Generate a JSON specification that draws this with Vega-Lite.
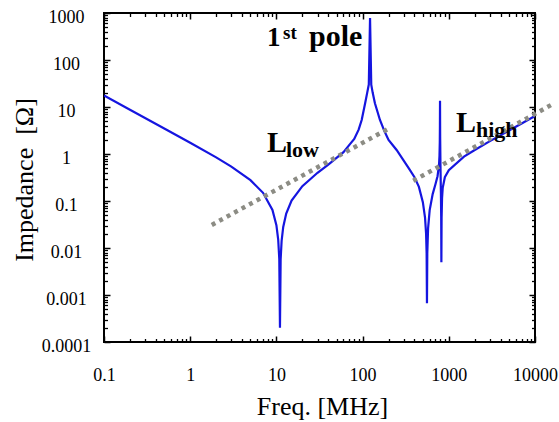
{
  "$schema": "https://vega.github.io/schema/vega-lite/v6.json",
  "autosize": "none",
  "width": 431,
  "height": 329,
  "padding": {"left": 104, "top": 13, "right": 24, "bottom": 80},
  "background": "white",
  "config": {
    "view": {"stroke": "black", "strokeWidth": 2},
    "axis": {"grid": false, "tickColor": "black", "labelColor": "black", "titleColor": "black", "domain": false}
  },
  "datasets": {
    "curve": [
      {"f": 0.1, "z": 17.5}, {"f": 0.2, "z": 8.747}, {"f": 0.5, "z": 3.493}, {"f": 1, "z": 1.736},
      {"f": 2, "z": 0.8463}, {"f": 3, "z": 0.5403}, {"f": 5, "z": 0.2781}, {"f": 7, "z": 0.1493},
      {"f": 9, "z": 0.0646}, {"f": 10, "z": 0.03058}, {"f": 10.5, "z": 0.01492}, {"f": 10.8, "z": 0.005885},
      {"f": 11, "z": 0.0002}, {"f": 11.2, "z": 0.005782}, {"f": 11.5, "z": 0.01428}, {"f": 12, "z": 0.028},
      {"f": 13, "z": 0.054}, {"f": 15, "z": 0.1018}, {"f": 20, "z": 0.207}, {"f": 30, "z": 0.3986},
      {"f": 40, "z": 0.5962}, {"f": 60, "z": 1.094}, {"f": 71, "z": 1.6}, {"f": 80, "z": 2.1},
      {"f": 90, "z": 3.3}, {"f": 97.6, "z": 5.3}, {"f": 107, "z": 12}, {"f": 113, "z": 20},
      {"f": 118, "z": 30}, {"f": 122, "z": 780}, {"f": 126, "z": 30}, {"f": 131, "z": 20},
      {"f": 139, "z": 12}, {"f": 159, "z": 5.3}, {"f": 180, "z": 3.0}, {"f": 200, "z": 2.0},
      {"f": 248, "z": 1.22}, {"f": 300, "z": 0.72}, {"f": 350, "z": 0.47}, {"f": 400, "z": 0.32},
      {"f": 450, "z": 0.2}, {"f": 500, "z": 0.0943},
      {"f": 530, "z": 0.0443}, {"f": 545, "z": 0.0203}, {"f": 553, "z": 0.0078}, {"f": 558, "z": 0.00067},
      {"f": 563, "z": 0.0077}, {"f": 575, "z": 0.0261}, {"f": 600, "z": 0.0639}, {"f": 650, "z": 0.1402},
      {"f": 700, "z": 0.2276}, {"f": 740, "z": 0.3373}, {"f": 770, "z": 0.585}, {"f": 780, "z": 0.93},
      {"f": 786, "z": 1.78}, {"f": 789, "z": 4.1}, {"f": 791, "z": 13.5}, {"f": 794, "z": 2.34},
      {"f": 800, "z": 0.612}, {"f": 810, "z": 0.15}, {"f": 816, "z": 0.0466}, {"f": 820, "z": 0.005},
      {"f": 825, "z": 0.0441}, {"f": 835, "z": 0.115}, {"f": 850, "z": 0.19}, {"f": 900, "z": 0.32},
      {"f": 1000, "z": 0.45}, {"f": 1500, "z": 0.88}, {"f": 2000, "z": 1.22}, {"f": 3000, "z": 1.88},
      {"f": 5000, "z": 3.172}, {"f": 7000, "z": 4.471}, {"f": 10000, "z": 6.41}
    ],
    "asym": [
      {"seg": "low", "f": 1.78, "z": 0.031}, {"seg": "low", "f": 208, "z": 3.6},
      {"seg": "high", "f": 387, "z": 0.27}, {"seg": "high", "f": 15350, "z": 11.0}
    ],
    "notes": [
      {"kind": "num", "text": "1", "f": 7.78, "z": 198.6},
      {"kind": "sup", "text": "st", "f": 11.93, "z": 286.7},
      {"kind": "big", "text": "pole", "f": 23.9, "z": 198.6},
      {"kind": "big", "text": "L", "f": 7.78, "z": 1.119},
      {"kind": "sub", "text": "low", "f": 12.92, "z": 0.877},
      {"kind": "big", "text": "L", "f": 1212, "z": 2.98},
      {"kind": "sub", "text": "high", "f": 2068, "z": 2.333}
    ]
  },
  "resolve": {"axis": {"x": "independent", "y": "independent"}},
  "layer": [
    {
      "data": {"name": "curve"},
      "mark": {"type": "line", "color": "#1515e0", "strokeWidth": 2.2, "clip": true},
      "encoding": {
        "x": {"field": "f", "type": "quantitative",
          "scale": {"type": "log", "domain": [0.1, 10000], "nice": false},
          "axis": {"orient": "bottom", "values": [0.1, 1, 10, 100, 1000, 10000], "ticks": false,
            "labelExpr": "format(datum.value, '')", "labelFont": "Liberation Serif", "labelFontSize": 18,
            "labelPadding": 24, "labelFlush": false, "labelOverlap": false, "labelBound": false,
            "title": "Freq. [MHz]", "titleFont": "Liberation Serif", "titleFontSize": 26, "titleFontWeight": "normal",
            "titleX": 218, "titleY": 72, "titleBaseline": "alphabetic", "titleAlign": "center"}},
        "y": {"field": "z", "type": "quantitative",
          "scale": {"type": "log", "domain": [0.0001, 1000], "nice": false},
          "axis": {"orient": "left", "values": [0.0001, 0.001, 0.01, 0.1, 1, 10, 100, 1000], "ticks": false,
            "labelExpr": "format(datum.value, '')", "labelFont": "Liberation Serif", "labelFontSize": 18,
            "labelPadding": 38, "labelAlign": "center", "labelBaseline": "middle", "labelOffset": 4.5,
            "labelFlush": false, "labelOverlap": false, "labelBound": false,
            "title": "Impedance\u00a0 [Ω]", "titleFont": "Liberation Serif", "titleFontSize": 26, "titleFontWeight": "normal",
            "titleAngle": -90, "titleX": -72, "titleY": 166.5, "titleBaseline": "alphabetic", "titleAlign": "center"}}
      }
    },
    {
      "data": {"name": "asym"},
      "mark": {"type": "line", "color": "#8c8c84", "strokeWidth": 4.5, "strokeDash": [4, 4.5], "strokeCap": "butt", "clip": false},
      "encoding": {
        "detail": {"field": "seg"},
        "x": {"field": "f", "type": "quantitative",
          "scale": {"type": "log", "domain": [0.1, 10000], "nice": false},
          "axis": {"orient": "bottom", "values": [0.1, 1, 10, 100, 1000, 10000], "labels": false, "ticks": true, "tickSize": -6, "tickWidth": 1.5, "title": null}},
        "y": {"field": "z", "type": "quantitative",
          "scale": {"type": "log", "domain": [0.0001, 1000], "nice": false},
          "axis": {"orient": "left", "values": [0.0001, 0.001, 0.01, 0.1, 1, 10, 100, 1000], "labels": false, "ticks": true, "tickSize": -6, "tickWidth": 1.5, "title": null}}
      }
    },
    {
      "data": {"name": "notes"},
      "transform": [{"filter": "datum.kind === 'num'"}],
      "mark": {"type": "text", "align": "left", "baseline": "alphabetic", "font": "Liberation Serif", "fontWeight": "bold", "fontSize": 27, "color": "black"},
      "encoding": {
        "text": {"field": "text"},
        "x": {"field": "f", "type": "quantitative",
          "scale": {"type": "log", "domain": [0.1, 10000], "nice": false},
          "axis": {"orient": "top", "values": [0.1, 1, 10, 100, 1000, 10000], "labels": false, "ticks": true, "tickSize": -6, "tickWidth": 1.5, "title": null}},
        "y": {"field": "z", "type": "quantitative",
          "scale": {"type": "log", "domain": [0.0001, 1000], "nice": false},
          "axis": {"orient": "right", "values": [0.0001, 0.001, 0.01, 0.1, 1, 10, 100, 1000], "labels": false, "ticks": true, "tickSize": -6, "tickWidth": 1.5, "title": null}}
      }
    },
    {
      "data": {"name": "notes"},
      "transform": [{"filter": "datum.kind === 'big'"}],
      "mark": {"type": "text", "align": "left", "baseline": "alphabetic", "font": "Liberation Serif", "fontWeight": "bold", "fontSize": 30, "color": "black"},
      "encoding": {
        "text": {"field": "text"},
        "x": {"field": "f", "type": "quantitative",
          "scale": {"type": "log", "domain": [0.1, 10000], "nice": false},
          "axis": {"orient": "bottom", "values": [0.2, 0.3, 0.4, 0.5, 0.6, 0.7, 0.8, 0.9, 2, 3, 4, 5, 6, 7, 8, 9, 20, 30, 40, 50, 60, 70, 80, 90, 200, 300, 400, 500, 600, 700, 800, 900, 2000, 3000, 4000, 5000, 6000, 7000, 8000, 9000], "labels": false, "ticks": true, "tickSize": -3.5, "tickWidth": 1.3, "title": null}},
        "y": {"field": "z", "type": "quantitative",
          "scale": {"type": "log", "domain": [0.0001, 1000], "nice": false},
          "axis": {"orient": "left", "values": [0.0002, 0.0003, 0.0004, 0.0005, 0.0006, 0.0007, 0.0008, 0.0009, 0.002, 0.003, 0.004, 0.005, 0.006, 0.007, 0.008, 0.009, 0.02, 0.03, 0.04, 0.05, 0.06, 0.07, 0.08, 0.09, 0.2, 0.3, 0.4, 0.5, 0.6, 0.7, 0.8, 0.9, 2, 3, 4, 5, 6, 7, 8, 9, 20, 30, 40, 50, 60, 70, 80, 90, 200, 300, 400, 500, 600, 700, 800, 900], "labels": false, "ticks": true, "tickSize": -3.5, "tickWidth": 1.3, "title": null}}
      }
    },
    {
      "data": {"name": "notes"},
      "transform": [{"filter": "datum.kind === 'sup'"}],
      "mark": {"type": "text", "align": "left", "baseline": "alphabetic", "font": "Liberation Serif", "fontWeight": "bold", "fontSize": 19, "color": "black"},
      "encoding": {
        "text": {"field": "text"},
        "x": {"field": "f", "type": "quantitative",
          "scale": {"type": "log", "domain": [0.1, 10000], "nice": false},
          "axis": {"orient": "top", "values": [0.2, 0.3, 0.4, 0.5, 0.6, 0.7, 0.8, 0.9, 2, 3, 4, 5, 6, 7, 8, 9, 20, 30, 40, 50, 60, 70, 80, 90, 200, 300, 400, 500, 600, 700, 800, 900, 2000, 3000, 4000, 5000, 6000, 7000, 8000, 9000], "labels": false, "ticks": true, "tickSize": -3.5, "tickWidth": 1.3, "title": null}},
        "y": {"field": "z", "type": "quantitative",
          "scale": {"type": "log", "domain": [0.0001, 1000], "nice": false},
          "axis": {"orient": "right", "values": [0.0002, 0.0003, 0.0004, 0.0005, 0.0006, 0.0007, 0.0008, 0.0009, 0.002, 0.003, 0.004, 0.005, 0.006, 0.007, 0.008, 0.009, 0.02, 0.03, 0.04, 0.05, 0.06, 0.07, 0.08, 0.09, 0.2, 0.3, 0.4, 0.5, 0.6, 0.7, 0.8, 0.9, 2, 3, 4, 5, 6, 7, 8, 9, 20, 30, 40, 50, 60, 70, 80, 90, 200, 300, 400, 500, 600, 700, 800, 900], "labels": false, "ticks": true, "tickSize": -3.5, "tickWidth": 1.3, "title": null}}
      }
    },
    {
      "data": {"name": "notes"},
      "transform": [{"filter": "datum.kind === 'sub'"}],
      "mark": {"type": "text", "align": "left", "baseline": "alphabetic", "font": "Liberation Serif", "fontWeight": "bold", "fontSize": 22, "color": "black"},
      "encoding": {
        "text": {"field": "text"},
        "x": {"field": "f", "type": "quantitative",
          "scale": {"type": "log", "domain": [0.1, 10000], "nice": false}, "axis": null},
        "y": {"field": "z", "type": "quantitative",
          "scale": {"type": "log", "domain": [0.0001, 1000], "nice": false}, "axis": null}
      }
    }
  ]
}
